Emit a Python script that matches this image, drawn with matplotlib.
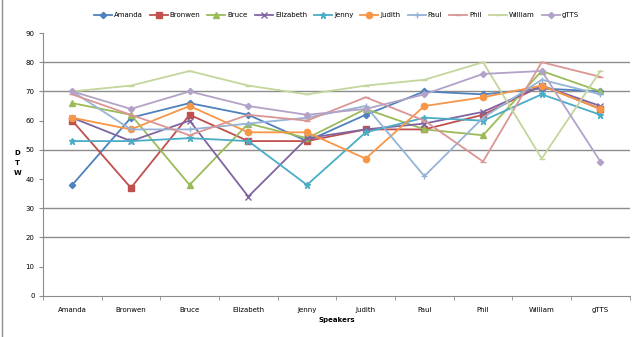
import matplotlib
matplotlib.use("Agg")
import matplotlib.pyplot as plt
from matplotlib.lines import Line2D
import numpy as np

speakers = ["Amanda", "Bronwen", "Bruce", "Elizabeth", "Jenny", "Judith",
            "Paul", "Phil", "William", "gTTS"]

amanda    = [38, 61, 66, 62, 53, 62, 70, 69, 71, 70]
bronwen   = [60, 37, 62, 53, 53, 57, 57, 62, 72, 64]
bruce     = [66, 62, 38, 59, 54, 64, 57, 55, 77, 70]
elizabeth = [61, 53, 60, 34, 54, 57, 59, 63, 72, 65]
jenny     = [53, 53, 54, 53, 38, 56, 61, 60, 69, 62]
judith    = [61, 57, 65, 56, 56, 47, 65, 68, 72, 64]
paul      = [70, 57, 57, 59, 61, 65, 41, 61, 74, 69]
phil      = [69, 62, 55, 62, 60, 68, 60, 46, 80, 75]
william   = [70, 72, 77, 72, 69, 72, 74, 80, 47, 77]
gtts      = [70, 64, 70, 65, 62, 64, 69, 76, 77, 46]

series = [
    ("Amanda", amanda, "#4F81BD", "D", 3.2),
    ("Bronwen", bronwen, "#C0504D", "s", 4),
    ("Bruce", bruce, "#9BBB59", "^", 4.2),
    ("Elizabeth", elizabeth, "#8064A2", "x", 4),
    ("Jenny", jenny, "#4BACC6", "*", 4.5),
    ("Judith", judith, "#F79646", "o", 4.5),
    ("Paul", paul, "#95B3D7", "+", 5),
    ("Phil", phil, "#D99694", "_", 5),
    ("William", william, "#C3D69B", "_", 5),
    ("gTTS", gtts, "#B3A2C7", "D", 3.2),
]

fig = plt.figure(figsize=(6.4, 3.37), dpi=100)
ax = fig.add_axes([0.067, 0.122, 0.917, 0.780])

# left border of the original picture
fig.add_artist(Line2D([0.003, 0.003], [0, 1], color="#8c8c8c", lw=1.0))

x = np.arange(len(speakers))
for g in [20, 30, 50, 70, 80]:
    ax.axhline(g, color="#8c8c8c", lw=1.0, zorder=0)

for name, vals, col, mk, ms in series:
    ax.plot(x, vals, color=col, marker=mk, markersize=ms, lw=1.3,
            markeredgecolor=col, markeredgewidth=1.0, label=name)

ax.set_xlim(-0.5, len(speakers) - 0.5)
ax.set_ylim(0, 90)
ax.set_yticks(range(0, 91, 10))
ax.set_xticks(x)
ax.set_xticklabels(speakers)
ax.set_xticks(np.arange(-0.5, len(speakers), 1.0), minor=True)
ax.tick_params(axis="x", which="major", length=0, labelsize=5, pad=8)
ax.tick_params(axis="x", which="minor", length=3, color="#8c8c8c")
ax.tick_params(axis="y", length=3, color="#8c8c8c", labelsize=5, pad=3)

for s in ["top", "right"]:
    ax.spines[s].set_visible(False)
for s in ["left", "bottom"]:
    ax.spines[s].set_color("#8c8c8c")

ax.set_xlabel("Speakers", fontsize=5, fontweight="bold", labelpad=3)
fig.text(0.027, 0.516, "D\nT\nW", fontsize=5, fontweight="bold",
         ha="center", va="center", linespacing=1.8)

ax.legend(loc="center", bbox_to_anchor=(0.5, 1.068), ncol=10,
          frameon=False, fontsize=5, handlelength=2.6, columnspacing=1.0,
          handletextpad=0.3)

fig.savefig("out.png", dpi=100)
